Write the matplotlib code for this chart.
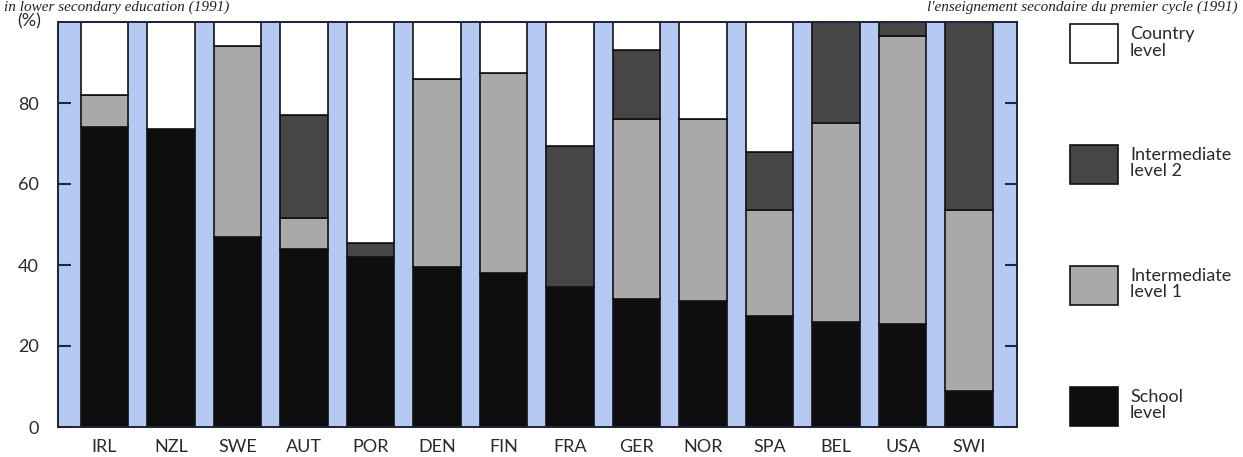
import matplotlib
matplotlib.use("Agg")
import matplotlib.pyplot as plt
import numpy as np

countries = ["IRL", "NZL", "SWE", "AUT", "POR", "DEN", "FIN", "FRA", "GER", "NOR", "SPA", "BEL", "USA", "SWI"]
school = [74, 73.5, 47, 44, 42, 39.5, 38, 34.5, 31.5, 31, 27.5, 26, 25.5, 9]
intermediate1 = [8, 0, 47, 7.5, 0, 46.5, 49.5, 0, 44.5, 45, 26, 49, 71, 44.5]
intermediate2 = [0, 0, 0, 25.5, 3.5, 0, 0, 35, 17, 0, 14.5, 25, 3.5, 46.5]
country_level = [100 - a - b - c for a, b, c in zip(school, intermediate1, intermediate2)]

series_labels = ["School\nlevel", "Intermediate\nlevel 1", "Intermediate\nlevel 2", "Country\nlevel"]
yticks = [0, 20, 40, 60, 80]

plt.rcParams['font.family'] = ['Lato', 'DejaVu Sans']

fig = plt.figure(figsize=(12.43, 4.57), dpi=100)
ax = fig.add_axes([58/1243, 1-427/457, (1017-58)/1243, (427-22)/457])
ax.set_facecolor('#b6c9f3')

x = np.arange(len(countries))
w = 0.715
colors = ['#0e0e0e', '#a9a9a9', '#464646', '#ffffff']
series = [school, intermediate1, intermediate2, country_level]
bottom = np.zeros(len(countries))
containers = []
for vals, col, lab in zip(series, colors, series_labels):
    v = np.array(vals, dtype=float)
    c = ax.bar(x, v, w, bottom=bottom, color=col, edgecolor='#111111', linewidth=1.2, label=lab, zorder=3)
    containers.append(c)
    bottom += v

ax.set_xlim(-0.70, 13.72)
ax.set_ylim(0, 100)
ax.set_xticks(x)
ax.set_xticklabels(countries)
ax.set_yticks(yticks)
ax.tick_params(axis='x', length=0, pad=9, labelsize=13, labelcolor='#2a2a2a')
ax.tick_params(axis='y', direction='in', length=9, width=1.5, color='#1c2a4a',
               labelsize=13, labelcolor='#2a2a2a', pad=14, right=True)
for s in ax.spines.values():
    s.set_color('#1c2238')
    s.set_linewidth(1.4)
    s.set_zorder(5)

fig.text(17/1243, 1-21/457, "(%)", fontsize=13, color='#2a2a2a', va='center', ha='left')

# titles at top
fig.text(4/1243, 1-11/457, "in lower secondary education (1991)", fontsize=11, style='italic',
         family=['Liberation Serif'], color='#222222', va='baseline', ha='left')
fig.text(1238/1243, 1-11/457, "l'enseignement secondaire du premier cycle (1991)", fontsize=11, style='italic',
         family=['Liberation Serif'], color='#222222', va='baseline', ha='right')

handles = containers[::-1]
labels = series_labels[::-1]
leg = fig.legend(handles, labels, loc='upper left', bbox_to_anchor=(1070/1243, 1-24/457),
                 frameon=False, borderpad=0, borderaxespad=0, handlelength=2.66, handleheight=2.95,
                 handletextpad=0.66, labelspacing=4.53, fontsize=13)
for t in leg.get_texts():
    t.set_color('#2a2a2a')
    t.set_linespacing(1.05)

fig.savefig("out.png", dpi=100)
